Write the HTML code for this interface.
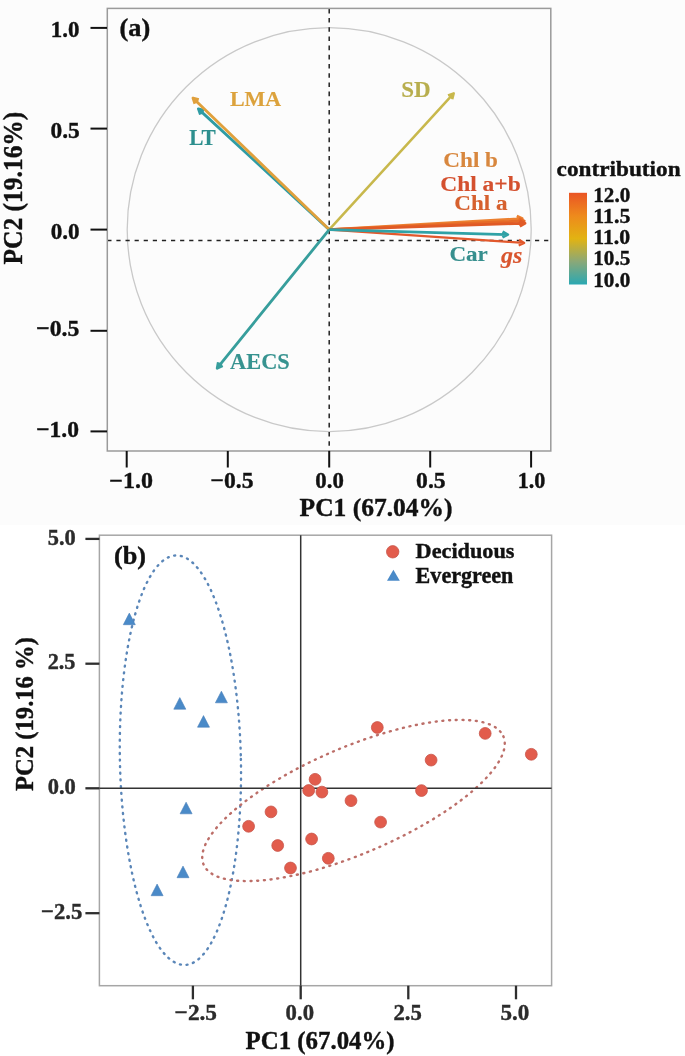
<!DOCTYPE html>
<html><head><meta charset="utf-8">
<style>
html,body{margin:0;padding:0;background:#fff;}
body{width:685px;height:1056px;overflow:hidden;}
svg{display:block;filter:blur(0.35px);}
text{font-family:"Liberation Serif",serif;font-weight:bold;}
</style></head>
<body>
<svg width="685" height="1056" viewBox="0 0 685 1056">
<defs>
<linearGradient id="cb" x1="0" y1="1" x2="0" y2="0">
<stop offset="0" stop-color="#2aa8b2"/><stop offset="0.25" stop-color="#8aa878"/><stop offset="0.5" stop-color="#e2b312"/><stop offset="0.75" stop-color="#ee8a1c"/><stop offset="1" stop-color="#ea5424"/>
</linearGradient>
</defs>
<rect x="0" y="0" width="685" height="1056" fill="#fff"/>
<rect x="0" y="0" width="685" height="525" fill="#fcfcfc"/>
<!-- panel A -->
<circle cx="329.2" cy="229.6" r="202" fill="none" stroke="#c9c9c9" stroke-width="1.3"/>
<line x1="329.2" y1="8.8" x2="329.2" y2="451" stroke="#222" stroke-width="1.5" stroke-dasharray="4.6 4.6"/>
<line x1="107.3" y1="240.5" x2="551" y2="240.5" stroke="#222" stroke-width="1.6" stroke-dasharray="4.2 4.9"/>
<rect x="107.3" y="8.4" width="443.5" height="442.6" fill="none" stroke="#9a9a9a" stroke-width="1.5"/>
<g stroke="#111" stroke-width="2">
<line x1="90.5" y1="27.9" x2="107" y2="27.9"/><line x1="90.5" y1="128.6" x2="107" y2="128.6"/><line x1="90.5" y1="229.6" x2="107" y2="229.6"/><line x1="90.5" y1="330.8" x2="107" y2="330.8"/><line x1="90.5" y1="431.4" x2="107" y2="431.4"/>
<line x1="126.7" y1="451" x2="126.7" y2="467.5"/><line x1="227.8" y1="451" x2="227.8" y2="467.5"/><line x1="329.2" y1="451" x2="329.2" y2="467.5"/><line x1="430.2" y1="451" x2="430.2" y2="467.5"/><line x1="531.1" y1="451" x2="531.1" y2="467.5"/>
</g>
<path d="M329.2 229.6L453.0 94.1M448.0 95.4L453.7 93.4L452.2 99.2" stroke="#c8b84c" stroke-width="2.5" fill="none" stroke-linecap="butt" stroke-linejoin="round"/>
<path d="M329.2 229.6L199.1 109.6M200.4 114.6L198.4 108.9L204.2 110.4" stroke="#2f9ca4" stroke-width="2.8" fill="none" stroke-linecap="butt" stroke-linejoin="round"/>
<path d="M329.2 229.6L193.7 98.7M194.9 103.7L193.0 98.0L198.8 99.7" stroke="#e0a03c" stroke-width="2.8" fill="none" stroke-linecap="butt" stroke-linejoin="round"/>
<path d="M329.2 229.6L217.8 367.4M222.7 365.8L217.2 368.2L218.3 362.3" stroke="#379e9c" stroke-width="2.8" fill="none" stroke-linecap="butt" stroke-linejoin="round"/>
<path d="M329.2 229.6L521.2 218.7M516.8 216.1L522.2 218.6L517.1 221.7" stroke="#ec8030" stroke-width="2.8" fill="none" stroke-linecap="butt" stroke-linejoin="round"/>
<path d="M329.2 229.6L523.2 221.0M518.8 218.4L524.2 221.0L519.0 224.0" stroke="#e66a28" stroke-width="2.8" fill="none" stroke-linecap="butt" stroke-linejoin="round"/>
<path d="M329.2 229.6L524.0 223.3M519.6 220.7L525.0 223.3L519.8 226.3" stroke="#e05a26" stroke-width="2.8" fill="none" stroke-linecap="butt" stroke-linejoin="round"/>
<path d="M329.2 229.6L523.2 242.9M519.1 239.8L524.2 243.0L518.7 245.4" stroke="#e2582c" stroke-width="2.2" fill="none" stroke-linecap="butt" stroke-linejoin="round"/>
<path d="M329.2 229.6L506.8 234.6M502.6 231.6L507.8 234.6L502.4 237.3" stroke="#30a2a6" stroke-width="2.8" fill="none" stroke-linecap="butt" stroke-linejoin="round"/>

<rect x="569" y="192.8" width="18" height="91.7" fill="url(#cb)"/>
<!-- panel B -->
<ellipse cx="180.4" cy="760.2" rx="60.5" ry="204.8" transform="rotate(-1.2 180.4 760.2)" fill="none" stroke="#5a86b8" stroke-width="2.4" stroke-linecap="round" stroke-dasharray="1.0 5.7"/>
<ellipse cx="353.5" cy="800.5" rx="163" ry="53" transform="rotate(-23.2 353.5 800.5)" fill="none" stroke="#bc6e68" stroke-width="2.4" stroke-linecap="round" stroke-dasharray="1.0 5.7"/>
<rect x="99.4" y="535.2" width="452.2" height="450.5" fill="none" stroke="#a6a6a6" stroke-width="1.5"/>
<line x1="99.4" y1="788.3" x2="551.6" y2="788.3" stroke="#333" stroke-width="1.5"/>
<line x1="300.7" y1="535.2" x2="300.7" y2="985.7" stroke="#333" stroke-width="1.5"/>
<g stroke="#2e2e2e" stroke-width="2.3">
<line x1="85.4" y1="538.9" x2="99.4" y2="538.9"/><line x1="85.4" y1="663.7" x2="99.4" y2="663.7"/><line x1="85.4" y1="788.3" x2="99.4" y2="788.3"/><line x1="85.4" y1="913.2" x2="99.4" y2="913.2"/>
<line x1="192.9" y1="985.7" x2="192.9" y2="999.3"/><line x1="300.7" y1="985.7" x2="300.7" y2="999.3"/><line x1="408.3" y1="985.7" x2="408.3" y2="999.3"/><line x1="516.0" y1="985.7" x2="516.0" y2="999.3"/>
</g>
<g fill="#e25c4c" stroke="#c8564a" stroke-width="0.8"><circle cx="377.3" cy="727.5" r="5.9"/><circle cx="485.2" cy="733.4" r="5.9"/><circle cx="531.3" cy="754.3" r="5.9"/><circle cx="431.1" cy="760.1" r="5.9"/><circle cx="315.1" cy="779.3" r="5.9"/><circle cx="308.7" cy="790.5" r="5.9"/><circle cx="321.9" cy="792.1" r="5.9"/><circle cx="421.5" cy="790.6" r="5.9"/><circle cx="351.0" cy="800.7" r="5.9"/><circle cx="271.0" cy="811.9" r="5.9"/><circle cx="248.6" cy="826.3" r="5.9"/><circle cx="380.6" cy="822.1" r="5.9"/><circle cx="311.6" cy="839.0" r="5.9"/><circle cx="277.7" cy="845.5" r="5.9"/><circle cx="328.3" cy="858.3" r="5.9"/><circle cx="290.5" cy="868.0" r="5.9"/></g>
<g fill="#4a8ac8" stroke="#4a80b8" stroke-width="0.6"><polygon points="129.3,613.1 135.3,624.7 123.3,624.7"/><polygon points="179.8,697.6 185.8,709.2 173.8,709.2"/><polygon points="221.4,691.2 227.4,702.8 215.4,702.8"/><polygon points="203.5,715.6 209.5,727.2 197.5,727.2"/><polygon points="186.1,802.2 192.1,813.8 180.1,813.8"/><polygon points="183.0,866.1 189.0,877.7 177.0,877.7"/><polygon points="157.1,884.1 163.1,895.7 151.1,895.7"/></g>
<circle cx="392.7" cy="551.8" r="6.2" fill="#e25c4c" stroke="#c8564a" stroke-width="0.8"/>
<polygon points="393.4,569.8 399.8,580.8 387,580.8" fill="#4a8ac8"/>
<!-- texts -->
<text x="50.8" y="37.2" font-size="22.9" fill="#111" stroke="#111" stroke-width="0.40">1.0</text>
<text x="50.5" y="138.1" font-size="23.4" fill="#111" stroke="#111" stroke-width="0.40">0.5</text>
<text x="50.7" y="239.2" font-size="23.1" fill="#111" stroke="#111" stroke-width="0.40">0.0</text>
<text x="36.2" y="336.1" font-size="23.7" fill="#111" stroke="#111" stroke-width="0.40">−0.5</text>
<text transform="translate(36.2 436.5) scale(1.032 1)" font-size="22.8" fill="#111" stroke="#111" stroke-width="0.40">−1.0</text>
<text transform="translate(109.3 487.7) scale(1.062 1)" font-size="22.6" fill="#111" stroke="#111" stroke-width="0.40">−1.0</text>
<text x="210.6" y="488.0" font-size="23.6" fill="#111" stroke="#111" stroke-width="0.40">−0.5</text>
<text x="315.3" y="487.5" font-size="22.8" fill="#111" stroke="#111" stroke-width="0.40">0.0</text>
<text x="416.1" y="488.0" font-size="23.6" fill="#111" stroke="#111" stroke-width="0.40">0.5</text>
<text x="517.8" y="488.1" font-size="22.1" fill="#111" stroke="#111" stroke-width="0.40">1.0</text>
<text x="299.6" y="515.6" font-size="25.5" fill="#111" stroke="#111" stroke-width="0.40">PC1 (67.04%)</text>
<text transform="translate(119.5 36.2) scale(1.066 1)" font-size="24.7" fill="#111" stroke="#111" stroke-width="0.40">(a)</text>
<text transform="translate(229.9 105.5) scale(1.023 1)" font-size="21.5" fill="#dca23c" stroke="#dca23c" stroke-width="0.15">LMA</text>
<text transform="translate(189.2 144.6) scale(0.943 1)" font-size="22.6" fill="#2d8f8e" stroke="#2d8f8e" stroke-width="0.15">LT</text>
<text x="401.3" y="97.4" font-size="23.0" fill="#b8ae4e" stroke="#b8ae4e" stroke-width="0.15">SD</text>
<text transform="translate(443.3 167.1) scale(1.067 1)" font-size="21.7" fill="#d8873e" stroke="#d8873e" stroke-width="0.15">Chl b</text>
<text transform="translate(440.2 191.4) scale(1.073 1)" font-size="21.9" fill="#d4502e" stroke="#d4502e" stroke-width="0.15">Chl a+b</text>
<text transform="translate(454.3 210.2) scale(1.049 1)" font-size="22.0" fill="#d6602e" stroke="#d6602e" stroke-width="0.15">Chl a</text>
<text transform="translate(449.4 261.1) scale(1.109 1)" font-size="20.8" fill="#378f8e" stroke="#378f8e" stroke-width="0.15">Car</text>
<text x="501.1" y="262.9" font-size="24.0" fill="#d9552e" stroke="#d9552e" stroke-width="0.15" font-style="italic">gs</text>
<text x="230.1" y="369.1" font-size="22.4" fill="#379390" stroke="#379390" stroke-width="0.15">AECS</text>
<text transform="translate(556.6 176.2) scale(1.062 1)" font-size="21.9" fill="#111" stroke="#111" stroke-width="0.40">contribution</text>
<text transform="translate(593.3 201.5) scale(1.035 1)" font-size="20.4" fill="#111" stroke="#111" stroke-width="0.40">12.0</text>
<text transform="translate(593.3 222.7) scale(1.076 1)" font-size="20.3" fill="#111" stroke="#111" stroke-width="0.40">11.5</text>
<text transform="translate(593.3 244.0) scale(1.068 1)" font-size="20.4" fill="#111" stroke="#111" stroke-width="0.40">11.0</text>
<text transform="translate(593.3 265.2) scale(1.035 1)" font-size="20.4" fill="#111" stroke="#111" stroke-width="0.40">10.5</text>
<text transform="translate(593.3 286.5) scale(1.035 1)" font-size="20.4" fill="#111" stroke="#111" stroke-width="0.40">10.0</text>
<text x="47.7" y="544.6" font-size="22.4" fill="#2b2b2b" stroke="#2b2b2b" stroke-width="0.40">5.0</text>
<text transform="translate(47.7 669.2) scale(0.978 1)" font-size="22.7" fill="#2b2b2b" stroke="#2b2b2b" stroke-width="0.40">2.5</text>
<text x="47.7" y="793.8" font-size="22.5" fill="#2b2b2b" stroke="#2b2b2b" stroke-width="0.40">0.0</text>
<text x="41.0" y="918.8" font-size="22.7" fill="#2b2b2b" stroke="#2b2b2b" stroke-width="0.40">−2.5</text>
<text transform="translate(174.6 1020.2) scale(1.028 1)" font-size="22.7" fill="#2b2b2b" stroke="#2b2b2b" stroke-width="0.40">−2.5</text>
<text transform="translate(285.6 1020.0) scale(1.015 1)" font-size="22.4" fill="#2b2b2b" stroke="#2b2b2b" stroke-width="0.40">0.0</text>
<text x="393.5" y="1020.2" font-size="22.7" fill="#2b2b2b" stroke="#2b2b2b" stroke-width="0.40">2.5</text>
<text transform="translate(500.5 1020.0) scale(1.031 1)" font-size="22.4" fill="#2b2b2b" stroke="#2b2b2b" stroke-width="0.40">5.0</text>
<text transform="translate(245.6 1048.7) scale(0.963 1)" font-size="25.8" fill="#111" stroke="#111" stroke-width="0.40">PC1 (67.04%)</text>
<text transform="translate(114.0 563.8) scale(1.083 1)" font-size="24.2" fill="#111" stroke="#111" stroke-width="0.40">(b)</text>
<text transform="translate(415.6 558.3) scale(1.016 1)" font-size="21.9" fill="#111" stroke="#111" stroke-width="0.40">Deciduous</text>
<text x="415.6" y="582.5" font-size="22.1" fill="#111" stroke="#111" stroke-width="0.40">Evergreen</text>
<text transform="translate(21.9 264.5) rotate(-90) scale(0.951 1)" font-size="26.8" fill="#111" stroke="#111" stroke-width="0.40">PC2 (19.16%)</text>
<text transform="translate(32.6 791.0) rotate(-90) scale(0.955 1)" font-size="25.8" fill="#111" stroke="#111" stroke-width="0.40">PC2 (19.16 %)</text>
</svg>
</body></html>
